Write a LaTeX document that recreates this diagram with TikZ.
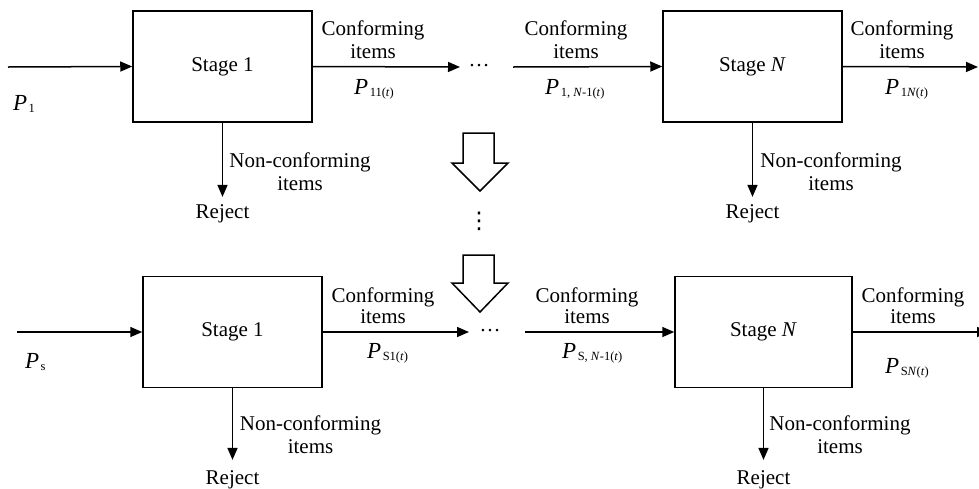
\documentclass[tikz,border=0pt]{standalone}
\usepackage{fontspec}
\setmainfont{Liberation Serif}
\newfontfamily\symfont{DejaVu Sans}
\usetikzlibrary{arrows.meta}
\newcommand{\mainfs}{\fontsize{21}{23}\selectfont}
\newcommand{\Pl}[1]{{\fontsize{23}{23}\selectfont\textit{P}}\kern1.5pt\raisebox{-2.5pt}{\fontsize{12.5}{12.5}\selectfont #1}}
\begin{document}
\begin{tikzpicture}[x=1pt,y=-1pt,
  stagebox/.style={draw, line width=1.5pt, minimum width=179pt, minimum height=111pt, inner sep=0pt, font=\mainfs},
  flow/.style={line width=1.5pt, -{Triangle[length=12pt,width=10pt]}},
  lbl/.style={anchor=base, inner sep=0pt, font=\mainfs},
  plbl/.style={anchor=base west, inner sep=0pt},
  hollow/.style={draw, line width=1.5pt, fill=white, line join=miter}
]
\useasboundingbox (0,0) rectangle (979,488);

% ---------- top row ----------
\node[stagebox] (A1) at (222.5,66.5) {Stage 1};
\node[stagebox] (AN) at (752.5,66.5) {Stage \textit{N}};
\coordinate (inA) at (8,67);
\coordinate (A1out) at (460,67);
\coordinate (ANin) at (513,67);
\coordinate (ANout) at (978,67);
\node[inner sep=0pt, font=\mainfs] (dotsA) at (479,66) {…};
\node[lbl] (rejA1) at (222.5,218) {Reject};
\node[lbl] (rejAN) at (752.5,218) {Reject};

\draw[flow] (inA) -- (A1.west);
\draw[flow] (A1.east) -- (A1out);
\draw[flow] (ANin) -- (AN.west);
\draw[flow] (AN.east) -- (ANout);
\draw[flow] (A1.south) -- ([yshift=7pt]rejA1.north);
\draw[flow] (AN.south) -- ([yshift=7pt]rejAN.north);

\node[plbl] (pA1) at (13,110) {\Pl{1}};
\node[lbl] (cA1a) at (373,35) {Conforming};
\node[lbl] (cA1b) at (373,58) {items};
\node[plbl] (pA11) at (354,94) {\Pl{11(\textit{t})}};
\node[lbl] (cA2a) at (576,35) {Conforming};
\node[lbl] (cA2b) at (576,58) {items};
\node[plbl] (pA1N1) at (545,94) {\Pl{1, \textit{N}-1(\textit{t})}};
\node[lbl] (cA3a) at (902,35) {Conforming};
\node[lbl] (cA3b) at (902,58) {items};
\node[plbl] (pA1N) at (885,94) {\Pl{1\textit{N}(\textit{t})}};
\node[lbl] (nA1a) at (300,167) {Non-conforming};
\node[lbl] (nA1b) at (300,190) {items};
\node[lbl] (nANa) at (831,167) {Non-conforming};
\node[lbl] (nANb) at (831,190) {items};

% ---------- middle ----------
\draw[hollow] (463,133) -- (494,133) -- (494,163) -- (508,163) -- (480,191) -- (452,163) -- (463,163) -- cycle;
\node[inner sep=0pt, font={\symfont\fontsize{23}{23}\selectfont}] (vdots) at (479,221) {⋮};
\draw[hollow] (463,255) -- (494,255) -- (494,283) -- (508,283) -- (480,312) -- (452,283) -- (463,283) -- cycle;

% ---------- bottom row ----------
\node[stagebox] (B1) at (232.5,332) {Stage 1};
\node[stagebox, minimum width=177pt] (BN) at (763.5,332) {Stage \textit{N}};
\coordinate (inB) at (17,332);
\coordinate (B1out) at (469,332);
\coordinate (BNin) at (525,332);
\coordinate (BNout) at (989,332);
\node[inner sep=0pt, font=\mainfs] (dotsB) at (490,331) {…};
\node[lbl] (rejB1) at (232.5,484) {Reject};
\node[lbl] (rejBN) at (763.5,484) {Reject};

\draw[flow] (inB) -- (B1.west);
\draw[flow] (B1.east) -- (B1out);
\draw[flow] (BNin) -- (BN.west);
\draw[flow] (BN.east) -- (BNout);
\draw[flow] (B1.south) -- ([yshift=10pt]rejB1.north);
\draw[flow] (BN.south) -- ([yshift=10pt]rejBN.north);

\node[plbl] (pBs) at (25,368) {\Pl{s}};
\node[lbl] (cB1a) at (383,302) {Conforming};
\node[lbl] (cB1b) at (383,323) {items};
\node[plbl] (pBS1) at (367,358) {\Pl{S1(\textit{t})}};
\node[lbl] (cB2a) at (587,302) {Conforming};
\node[lbl] (cB2b) at (587,323) {items};
\node[plbl] (pBSN1) at (562,358) {\Pl{S, \textit{N}-1(\textit{t})}};
\node[lbl] (cB3a) at (913,302) {Conforming};
\node[lbl] (cB3b) at (913,323) {items};
\node[plbl] (pBSN) at (885,373) {\Pl{S\textit{N}(\textit{t})}};
\node[lbl] (nB1a) at (310.5,430) {Non-conforming};
\node[lbl] (nB1b) at (310.5,453) {items};
\node[lbl] (nBNa) at (840,430) {Non-conforming};
\node[lbl] (nBNb) at (840,453) {items};
\end{tikzpicture}
\end{document}
